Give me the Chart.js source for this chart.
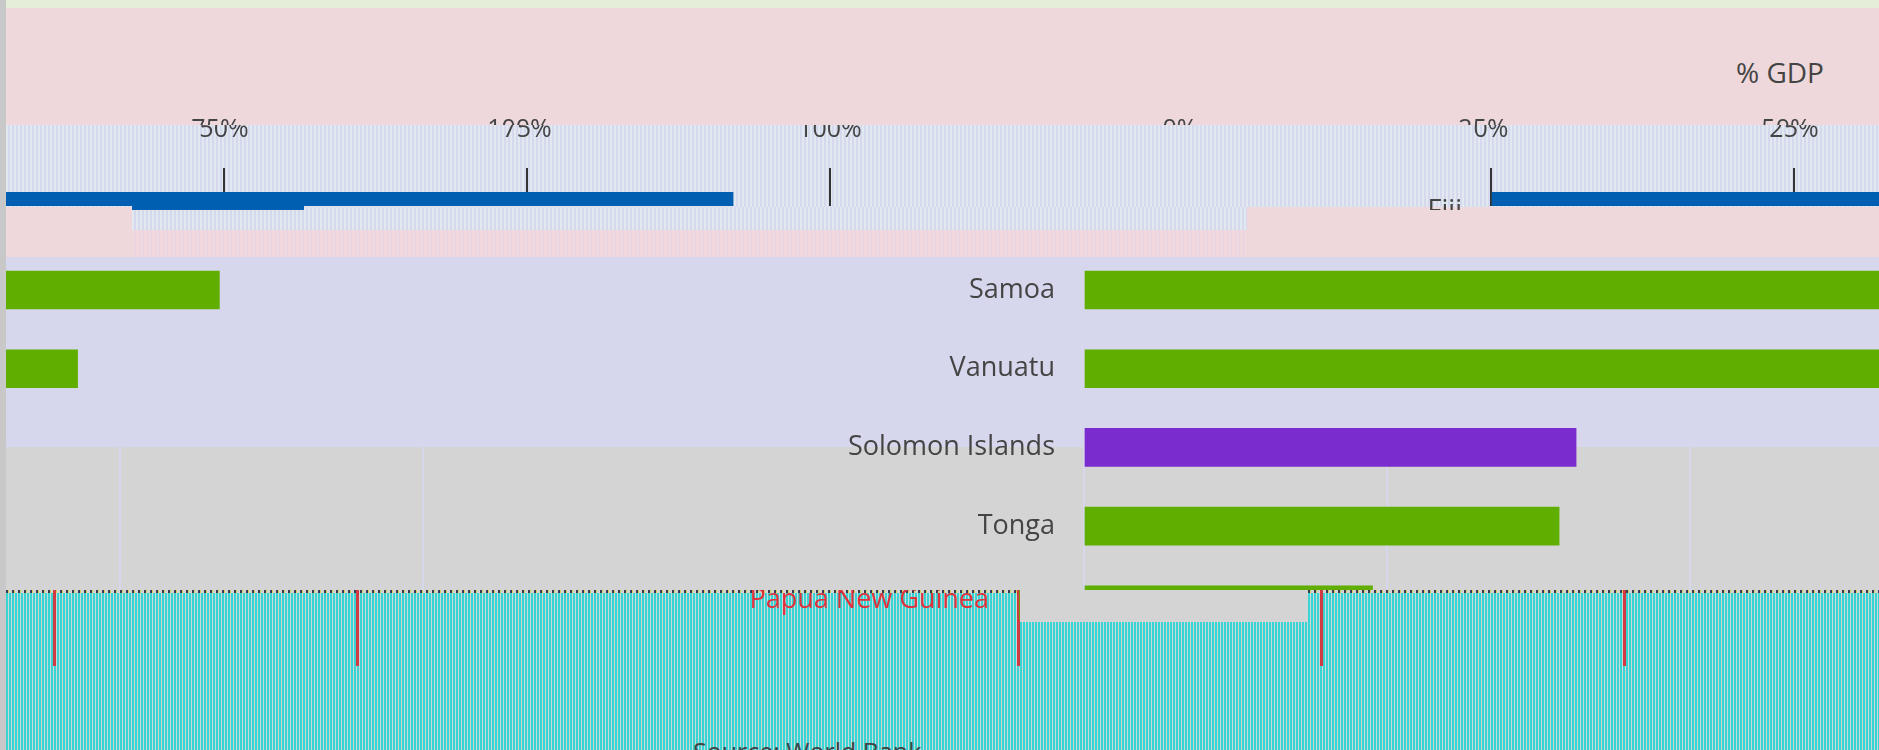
<!DOCTYPE html>
<html lang="en">
<head>
<meta charset="UTF-8">
<title>% GDP</title>
<script src="https://cdn.jsdelivr.net/npm/chart.js"></script>
<style>
    * { margin: 0; padding: 0; box-sizing: border-box; }
    html, body { width: 1879px; height: 750px; overflow: hidden; background: #c8c8c8; }
    body { position: relative; font-family: "Open Sans", sans-serif; color: #444; }
    .band, .layer, .note { position: absolute; }
    .layer { overflow: hidden; }
    .layer canvas { position: absolute; }
    .note { font-size: 28px; white-space: nowrap; }
    .cyan { background: repeating-linear-gradient(90deg, #38d4d4 0 2px, #cadada 2px 3px); }
    .noise { background: repeating-linear-gradient(90deg, #3a3a50 0 2px, #d8d050 2px 3px, #d4d4d4 3px 6px); }
    .pale { background: repeating-linear-gradient(90deg, #e0e8f0 0 2px, #d6d8ee 2px 4px); }
    .rosy { background: repeating-linear-gradient(90deg, #f0d8dc 0 3px, #e6d4e2 3px 4px); }
</style>
</head>
<body>
<div class="band" style="left:6px;top:0;width:1873px;height:8px;background:#e4eed8"></div>
<div class="band" style="left:6px;top:8px;width:1873px;height:117px;background:#eed8dc"></div>
<div class="band pale" style="left:6px;top:125px;width:1873px;height:82px"></div>
<div class="band" style="left:6px;top:207px;width:126px;height:50px;background:#eed8dc"></div>
<div class="band pale" style="left:132px;top:207px;width:1115px;height:23px"></div>
<div class="band rosy" style="left:132px;top:230px;width:1115px;height:27px"></div>
<div class="band" style="left:1247px;top:207px;width:632px;height:50px;background:#eed8dc"></div>
<div class="band" style="left:6px;top:257px;width:1873px;height:190px;background:#d6d6ec"></div>
<div class="band" style="left:6px;top:447px;width:1873px;height:143px;background:#d4d4d4"></div>
<div class="band cyan" style="left:6px;top:590px;width:1873px;height:160px"></div>
<div class="band noise" style="left:6px;top:590px;width:1012px;height:3px"></div>
<div class="band noise" style="left:1308px;top:590px;width:571px;height:3px"></div>

<div class="note" style="left:1736px;top:53px">% GDP</div>
<div class="note" style="left:693px;top:734px;font-size:25px">Source: World Bank</div>

<script>
const categories = ['Fiji', 'Samoa', 'Vanuatu', 'Solomon Islands', 'Tonga', 'Papua New Guinea', ''];
const debtShare = [92, 83.2, 71.5, 40.6, 39.2, 23.8, null];
const barColors = ['#005fb0', '#5fae00', '#5fae00', '#7b2cce', '#5fae00', '#5fae00', '#5fae00'];
const xTicks = [0, 25, 50, 75, 100];

const PLOT_LEFT = 400;          // room for the country labels
const CANVAS_W = 1700;
const CANVAS_H = 760;
const WRAP = 1873;              // the picture wraps round at this width

function makeChart(canvas, ink, gridInk, gridWidth) {
    return new Chart(canvas.getContext('2d'), {
        type: 'bar',
        data: {
            labels: categories,
            datasets: [{ data: debtShare, backgroundColor: barColors, barThickness: 38 }]
        },
        options: {
            indexAxis: 'y',
            responsive: false,
            animation: false,
            devicePixelRatio: 1,
            layout: { padding: { top: 0, right: 88, bottom: 0, left: 0 } },
            plugins: { legend: { display: false }, tooltip: { enabled: false } },
            scales: {
                x: {
                    position: 'top',
                    min: 0,
                    max: 100,
                    afterBuildTicks: s => { s.ticks = xTicks.map(v => ({ value: v })); },
                    afterFit: s => { s.height = 172; },
                    border: { display: false },
                    grid: { color: gridInk, lineWidth: gridWidth, tickLength: 4 },
                    ticks: {
                        color: ink,
                        padding: 23,
                        maxRotation: 0,
                        font: { family: '"Open Sans"', size: 25 },
                        callback: v => v + '%'
                    }
                },
                y: {
                    afterFit: s => { s.width = PLOT_LEFT; },
                    border: { display: false },
                    grid: { display: false },
                    ticks: {
                        color: ink,
                        padding: 21,
                        font: { family: '"Open Sans"', size: 27 }
                    }
                }
            }
        }
    });
}

// one clipped piece of the chart, with its zero line at zeroX
function layer(zeroX, x, y, w, h, ink, gridInk, gridWidth = 2, lift = 0) {
    [0, -WRAP].forEach(shift => {
        const box = document.createElement('div');
        box.className = 'layer';
        box.style.cssText = `left:${x}px;top:${y}px;width:${w}px;height:${h}px`;
        const canvas = document.createElement('canvas');
        canvas.width = CANVAS_W;
        canvas.height = CANVAS_H;
        canvas.style.cssText = `left:${zeroX + shift - PLOT_LEFT - x}px;top:${-y - lift}px;width:${CANVAS_W}px;height:${CANVAS_H}px`;
        box.appendChild(canvas);
        document.body.appendChild(box);
        makeChart(canvas, ink, gridInk, gridWidth);
    });
}

const INK = '#444';
const FAINT = '#d6d6ec';
const CLEAR = 'rgba(0,0,0,0)';

layer(1180, 6, 8, 1873, 117, INK, CLEAR);            // top half of the axis labels
layer(1491, 6, 125, 1873, 81, INK, '#333');          // lower half of the labels, ticks, Fiji bar
layer(1064, 132, 206, 172, 4, INK, CLEAR);           // sliver of the Fiji bar
layer(1491, 1420, 206, 70, 4, INK, CLEAR);           // top of the Fiji label
layer(1084, 6, 257, 1873, 333, INK, FAINT);          // Samoa to Tonga and the top of the last bar
layer(1018, 6, 590, 1873, 76, '#e0303a', '#d03a40', 3, 4); // the red run of the last row
</script>
<div class="band" style="left:1020px;top:590px;width:288px;height:32px;background:#d4d4d4"></div>
</body>
</html>
